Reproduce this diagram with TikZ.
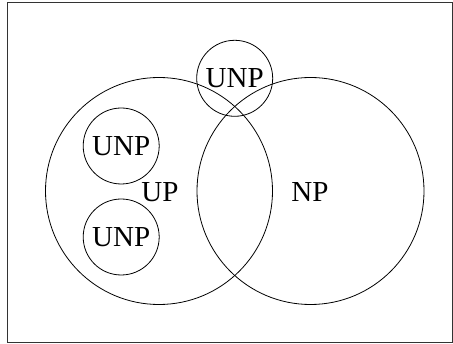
\documentclass[tikz,border=0pt]{standalone}
\usepackage{fontspec}
\setmainfont{Liberation Serif}
\usepackage{tikz}
\usetikzlibrary{positioning}
\tikzstyle{bigclass}=[circle,draw,line width=0.8pt,minimum size=227pt,inner sep=0pt]
\tikzstyle{smallclass}=[circle,draw,line width=0.8pt,minimum size=76pt,inner sep=0pt,font=\fontsize{29}{31}\selectfont]
\tikzstyle{classlabel} = [font=\fontsize{29}{31}\selectfont]

\begin{document}
\begin{tikzpicture}[x=1pt,y=-1pt]
    % frame
    \useasboundingbox (0,0) rectangle (453,344);
    \draw[black!80,line width=0.8pt] (7.5,2.5) rectangle (452,342);
    % the two big classes
    \foreach \pos/\name in {{(159,191)/up}, {(310.5,191)/np}}
        \node[bigclass] (\name) at \pos {};
    \node[classlabel] (uplabel) at (160,192) {UP};
    \node[classlabel] (nplabel) at (310,192) {NP};
    % the small classes
    \foreach \pos/\name in {{(234.7,78.3)/unpa}, {(121.2,146)/unpb}, {(121.2,237)/unpc}}
        \node[smallclass] (\name) at \pos {UNP};
\end{tikzpicture}
\end{document}
